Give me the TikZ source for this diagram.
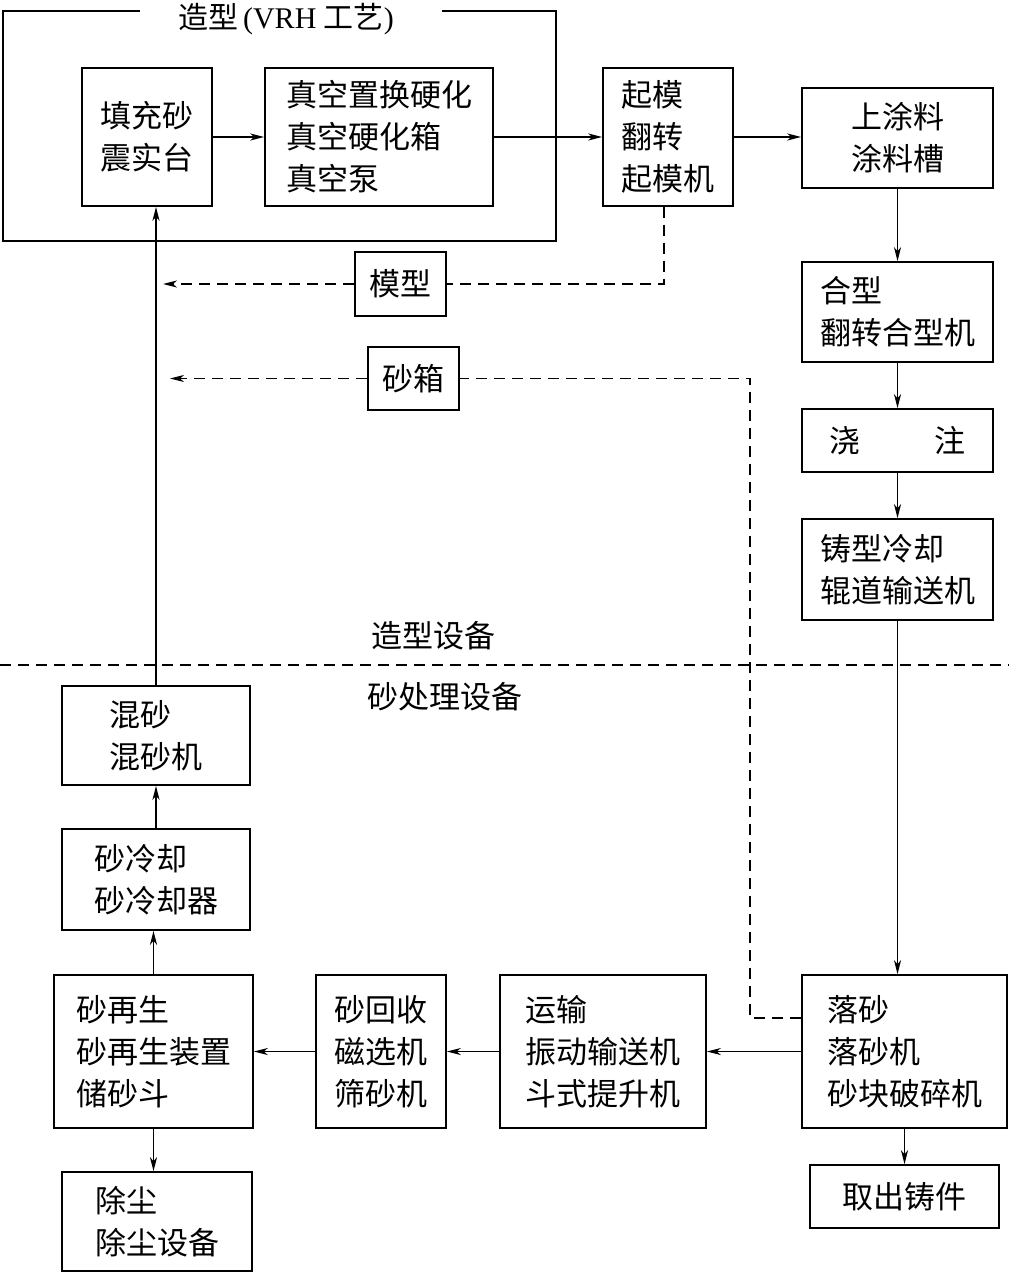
\documentclass[tikz,border=0pt]{standalone}
\usepackage{fontspec}
\setmainfont{Liberation Serif}
\newfontfamily\cjk{Noto Sans CJK SC}
\usetikzlibrary{arrows.meta,calc}
\begin{document}
\begin{tikzpicture}[x=1pt,y=-1pt,
  box/.style={draw, line width=1.6pt, align=left, inner sep=0pt, font=\cjk\fontsize{31}{42}\selectfont},
  lbl/.style={inner sep=0pt, font=\cjk\fontsize{31}{34}\selectfont},
  arr/.style={line width=1.5pt, -{Stealth[length=14pt,width=7pt,inset=4pt]}},
  dsh/.style={line width=1.5pt, dash pattern=on 11pt off 7pt},
  dsharr/.style={dsh, -{Stealth[length=14pt,width=7pt,inset=4pt]}}]
\useasboundingbox (0,0) rectangle (1009,1273);
% frame
\draw[line width=1.6pt] (140,11) -- (3,11) -- (3,241) -- (556,241) -- (556,11) -- (442,11);
\node[inner sep=0pt, font=\fontsize{30}{34}\selectfont] (title) at (286,19) {{\cjk 造型}\,(VRH {\cjk 工艺})};
% boxes
\node[box, minimum width=130, minimum height=138] (A) at (147,137) {填充砂\\震实台};
\node[box, minimum width=228, minimum height=138] (B) at (379,137) {真空置换硬化\\真空硬化箱\\真空泵};
\node[box, minimum width=130, minimum height=138] (C) at (668,137) {起模\\翻转\\起模机};
\node[box, minimum width=191, minimum height=100] (D) at (897.5,138) {上涂料\\涂料槽};
\node[box, minimum width=191, minimum height=100] (E) at (897.5,312) {合型\\翻转合型机};
\node[box, minimum width=191, minimum height=63] (F) at (897.5,440.5) {浇\hspace{74pt}注};
\node[box, minimum width=191, minimum height=101] (G) at (897.5,569.5) {铸型冷却\\辊道输送机};
\node[box, minimum width=205, minimum height=153] (H) at (904.5,1051.5) {落砂\\落砂机\\砂块破碎机};
\node[box, minimum width=189, minimum height=63] (I) at (904.5,1196.5) {取出铸件};
\node[box, minimum width=206, minimum height=153] (J) at (603,1051.5) {运输\\振动输送机\\斗式提升机};
\node[box, minimum width=130, minimum height=153] (K) at (381,1051.5) {砂回收\\磁选机\\筛砂机};
\node[box, minimum width=199, minimum height=153] (L) at (153.5,1051.5) {砂再生\\砂再生装置\\储砂斗};
\node[box, minimum width=190, minimum height=99] (M) at (157,1221.5) {除尘\\除尘设备};
\node[box, minimum width=188, minimum height=101] (N) at (156,879.5) {砂冷却\\砂冷却器};
\node[box, minimum width=188, minimum height=99] (O) at (156,735.5) {混砂\\混砂机};
\node[box, minimum width=91, minimum height=64] (MX) at (400.5,284) {模型};
\node[box, minimum width=91, minimum height=63] (SX) at (413.5,378.5) {砂箱};
% labels
\node[lbl] (t1) at (433,636) {造型设备};
\node[lbl] (t2) at (445,697) {砂处理设备};
% divider
\coordinate (dl) at (0,665);
\coordinate (dr) at (1009,665);
\draw[dsh] (dl) -- (dr);
% solid arrows
\draw[arr] (A.east) -- (B.west);
\draw[arr] (B.east) -- (C.west);
\draw[arr] (C.east) -- (C.east -| D.west);
\draw[arr] (D.south) -- (E.north);
\draw[arr] (E.south) -- (F.north);
\draw[arr] (F.south) -- (G.north);
\draw[arr] (G.south) -- (G.south |- H.north);
\draw[arr] (H.south) -- (I.north);
\draw[arr] (H.west) -- (J.east);
\draw[arr] (J.west) -- (K.east);
\draw[arr] (K.west) -- (L.east);
\draw[arr] (L.south) -- (L.south |- M.north);
\draw[arr] (L.north) -- (L.north |- N.south);
\draw[arr] (N.north) -- (O.south);
\draw[arr] (O.north) -- (O.north |- A.south);
% dashed returns
\coordinate (m1) at (163,284);
\draw[dsh] ($(C.south)+(-4,0)$) |- (MX.east);
\draw[dsharr] (MX.west) -- (m1);
\coordinate (h1) at (750,1018);
\coordinate (s1) at (170,378.5);
\draw[dsh] (H.west |- h1) -- (h1) |- (SX.east);
\draw[dsharr] (SX.west) -- (s1);
\end{tikzpicture}
\end{document}
